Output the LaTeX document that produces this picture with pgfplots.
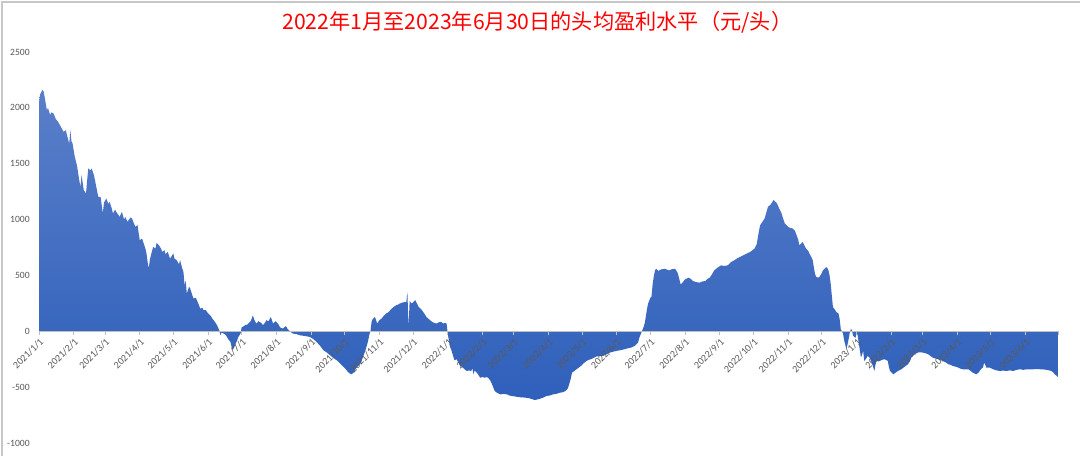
\documentclass[border=0pt]{standalone}
\usepackage{pgfplots}
\pgfplotsset{compat=1.18}
\usepackage{fontspec}
\setmainfont{Carlito}
\newfontfamily\cjk{Noto Sans CJK SC}
\definecolor{lab}{HTML}{595959}
\definecolor{topc}{HTML}{5A7FC9}
\definecolor{botc}{HTML}{2F60BB}
\pgfplotstableread{
d v
0 2050
1 2120
3 2160
4 2150
5 2100
7 1980
8 2000
10 1935
11 1960
13 1950
15 1900
17 1875
19 1840
22 1785
24 1800
25 1756
27 1680
28 1800
29 1700
30 1680
32 1560
34 1480
35 1413
36 1350
37 1293
38 1398
39 1330
40 1263
42 1234
43 1350
44 1458
46 1440
47 1458
49 1400
50 1353
52 1250
53 1203
55 1203
56 1130
57 1055
58 1150
60 1189
62 1140
63 1159
65 1100
66 1055
68 1090
69 1069
71 1040
72 1024
74 1069
76 1000
77 1024
79 980
80 995
82 1020
83 1010
85 960
86 935
88 950
89 880
90 815
92 830
93 800
95 740
96 696
97 620
98 562
99 640
101 720
102 755
104 741
105 790
107 771
109 740
110 710
112 726
113 690
115 710
117 650
118 666
120 696
121 650
123 636
125 600
126 636
128 560
129 531
130 412
131 450
132 338
134 400
135 383
137 320
138 293
140 300
141 278
143 230
144 203
146 210
147 188
149 190
150 173
152 150
153 143
155 110
156 99
158 70
159 54
161 9
162 -36
163 -10
164 -15
166 -25
167 -36
169 -70
171 -96
172 -140
173 -170
174 -150
175 -125
177 -80
178 -51
180 -21
181 39
182 40
184 54
186 60
187 69
189 90
190 114
191 143
192 110
194 69
196 90
197 84
199 70
200 54
202 80
203 99
205 90
207 128
208 100
209 69
211 90
212 84
214 60
215 39
216 30
218 24
220 45
221 39
222 20
224 0
226 -15
227 -21
230 -25
233 -36
236 -40
239 -45
242 -51
245 -70
248 -96
251 -130
254 -170
257 -190
260 -215
263 -240
266 -260
269 -290
272 -320
274 -340
276 -365
278 -380
279 -385
281 -370
282 -350
284 -320
287 -290
289 -240
291 -185
293 -120
294 -81
295 -30
296 0
297 84
298 110
300 128
301 100
302 69
304 100
306 114
308 140
310 159
312 170
315 203
317 220
319 233
321 240
322 248
324 255
327 263
328 260
329 350
330 30
331 270
333 248
335 270
336 278
338 240
339 218
341 200
342 188
344 160
346 128
348 110
351 84
353 75
355 69
357 80
359 84
361 70
363 75
364 69
365 -20
367 -140
368 -160
371 -260
373 -250
376 -310
377 -310
380 -340
382 -355
384 -350
386 -355
387 -330
388 -385
389 -350
391 -370
393 -400
394 -415
396 -410
398 -415
400 -410
401 -415
403 -440
404 -460
406 -510
407 -535
409 -550
412 -565
415 -560
418 -565
420 -575
423 -580
426 -585
429 -590
432 -592
435 -595
438 -600
441 -610
443 -615
445 -610
447 -605
450 -595
453 -580
456 -575
459 -565
462 -560
465 -550
468 -545
470 -535
472 -515
473 -490
475 -420
476 -370
478 -355
480 -340
482 -325
484 -310
486 -290
489 -265
491 -255
493 -250
496 -235
498 -225
501 -222
504 -220
507 -205
510 -190
513 -182
516 -175
520 -168
523 -160
526 -152
529 -145
532 -130
535 -100
536 -60
538 -10
540 40
541 75
543 200
544 250
546 300
547 310
548 420
549 490
550 540
551 560
553 540
554 545
556 555
559 560
561 550
563 545
565 555
568 560
570 530
571 500
573 420
575 440
577 465
580 480
582 470
584 450
587 440
590 435
592 445
595 450
597 470
599 480
601 510
603 545
606 570
609 590
612 585
615 590
618 620
620 630
623 650
626 665
629 680
632 695
635 710
637 725
639 740
641 780
642 845
643 900
644 950
646 980
648 1010
650 1080
651 1115
653 1130
655 1160
656 1175
658 1155
659 1145
661 1100
663 1060
664 1025
666 965
668 945
669 935
671 925
673 920
675 900
676 875
678 820
679 770
681 790
682 800
684 760
685 740
687 720
688 695
690 660
691 635
692 570
693 515
694 487
696 480
697 487
699 520
700 545
702 565
703 575
704 565
705 545
706 500
707 425
708 320
709 217
711 190
712 173
714 158
715 110
716 20
718 -20
719 -80
721 -160
722 -120
723 -70
724 -15
725 20
726 10
727 -40
729 -60
730 -25
731 -30
732 -100
734 -235
735 -210
736 -175
737 -265
739 -240
740 -220
742 -240
743 -265
745 -320
746 -355
747 -300
748 -265
750 -270
751 -265
753 -255
755 -250
757 -260
758 -265
759 -320
760 -355
762 -375
763 -385
765 -370
767 -355
770 -340
772 -325
774 -310
776 -295
778 -265
779 -235
781 -215
782 -205
784 -195
785 -190
787 -188
789 -190
792 -198
794 -205
796 -220
798 -235
801 -245
803 -250
805 -258
807 -265
810 -280
812 -295
814 -300
816 -310
819 -318
821 -325
823 -335
825 -340
828 -340
830 -340
832 -355
834 -370
836 -380
837 -385
839 -370
840 -355
842 -330
843 -325
844 -280
845 -300
846 -325
849 -325
852 -340
855 -350
858 -355
861 -352
864 -355
867 -350
870 -355
873 -345
876 -340
879 -345
882 -340
885 -342
888 -340
891 -338
894 -340
897 -342
900 -345
902 -350
904 -355
906 -370
907 -385
909 -400
910 -410
}\profit
\begin{document}
\begin{tikzpicture}
\useasboundingbox (0pt,0pt) rectangle (810pt,342pt);
\fill[white] (0pt,0pt) rectangle (810pt,342pt);
\draw[black!22, line width=1.5pt] (1.5pt,0pt) -- (1.5pt,340.5pt) -- (810pt,340.5pt);
\begin{axis}[
  at={(29.25pt,9.75pt)}, anchor=south west,
  scale only axis, width=764.25pt, height=293.25pt,
  xmin=0, xmax=910, ymin=-1000, ymax=2500,
  axis on top,
  axis x line=middle, axis y line=left,
  axis line style={-},
  x axis line style={draw=black!25, line width=0.6pt},
  y axis line style={draw=none},
  ytick={-1000,-500,0,500,1000,1500,2000,2500},
  y tick style={draw=none},
  yticklabel style={font=\fontsize{7.2}{8}\selectfont, text=lab, xshift=-2pt},
  /pgf/number format/assume math mode=true,
  /pgf/number format/1000 sep={},
  xtick={0,31,59,90,120,151,181,212,243,273,304,334,365,396,424,455,485,516,546,577,608,638,669,699,730,761,789,820,850,881,910},
  xticklabels={2021/1/1,2021/2/1,2021/3/1,2021/4/1,2021/5/1,2021/6/1,2021/7/1,2021/8/1,2021/9/1,2021/10/1,2021/11/1,2021/12/1,2022/1/1,2022/2/1,2022/3/1,2022/4/1,2022/5/1,2022/6/1,2022/7/1,2022/8/1,2022/9/1,2022/10/1,2022/11/1,2022/12/1,2023/1/1,2023/2/1,2023/3/1,2023/4/1,2023/5/1,2023/6/1,{}},
  xtick align=outside,
  major tick length=3pt,
  x tick style={draw=black!25, line width=0.6pt},
  xticklabel style={font=\fontsize{7.5}{8}\selectfont, text=lab, rotate=45, anchor=north east, inner sep=1pt},
  hide obscured x ticks=false, hide obscured y ticks=false,
]
\addplot[draw=none, top color=topc, bottom color=botc] table[x=d, y=v] {\profit} \closedcycle;
\end{axis}
\node[text=red, font=\cjk\fontsize{15.9}{16}\selectfont] at (403pt,325.5pt) {2022年1月至2023年6月30日的头均盈利水平（元/头）};
\end{tikzpicture}
\end{document}
